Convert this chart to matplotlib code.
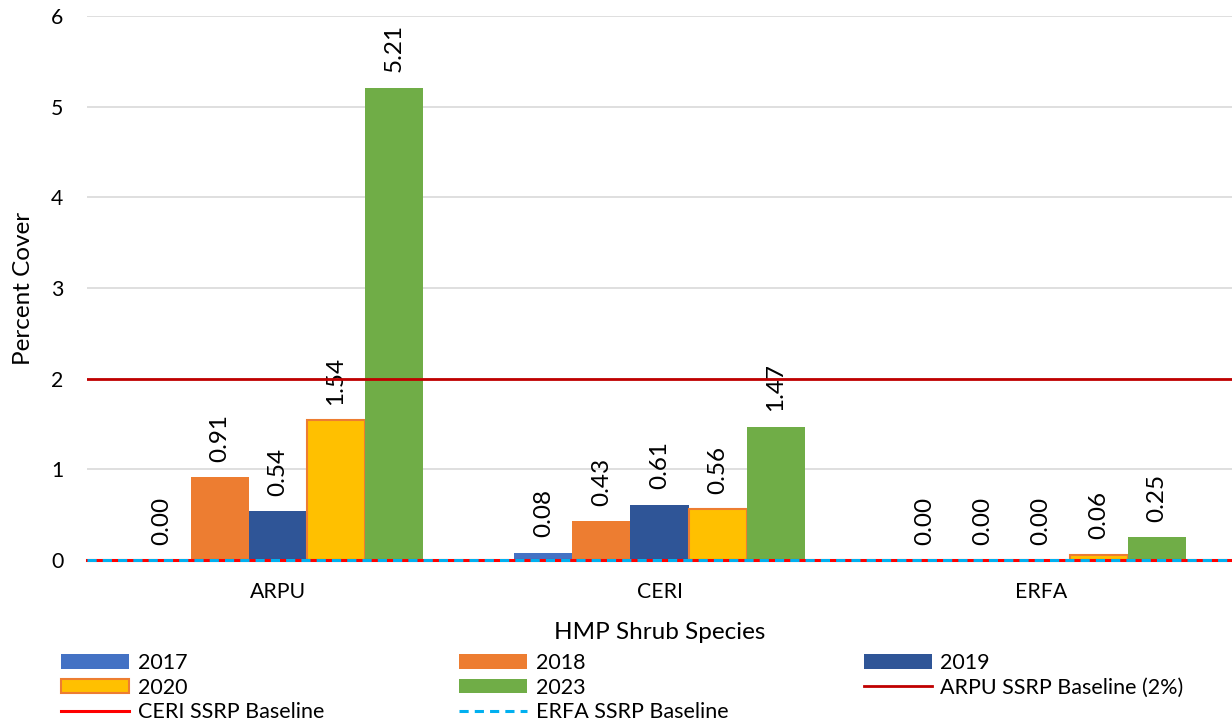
import matplotlib.pyplot as plt
import numpy as np
from matplotlib.lines import Line2D

plt.rcParams['font.family'] = ['Lato', 'DejaVu Sans']

species = ['ARPU', 'CERI', 'ERFA']
years = ['2017', '2018', '2019', '2020', '2023']
cover_2017 = [0.00, 0.08, 0.00]
cover_2018 = [0.91, 0.43, 0.00]
cover_2019 = [0.54, 0.61, 0.00]
cover_2020 = [1.54, 0.56, 0.06]
cover_2023 = [5.21, 1.47, 0.25]
arpu_baseline = 2.0
ceri_baseline = 0.0
erfa_baseline = 0.0

series = [cover_2017, cover_2018, cover_2019, cover_2020, cover_2023]
fills = ['#4472C4', '#ED7D31', '#2F5597', '#FFC000', '#70AD47']
edges = ['none', 'none', 'none', '#ED7D31', 'none']

fig = plt.figure(figsize=(12.32, 7.23), dpi=100)
ax = fig.add_axes([87/1232, 163/723, 1145/1232, 544/723])

x = np.arange(len(species))
w = 0.152
bars = {}
for i, (yr, vals) in enumerate(zip(years, series)):
    pos = x + (i - 2) * w
    b = ax.bar(pos, vals, w, color=fills[i], edgecolor=edges[i],
               linewidth=1.5 if edges[i] != 'none' else 0, zorder=3, label=yr)
    bars[yr] = b
    for px, v in zip(pos, vals):
        ax.annotate(f'{v:.2f}', (px, v), xytext=(0, 11), textcoords='offset points',
                    rotation=90, ha='center', va='bottom', fontsize=17.5)

ax.axhline(arpu_baseline, color='#C00000', lw=2, zorder=4)
ax.axhline(ceri_baseline, color='#FF0000', lw=2.2, zorder=4, clip_on=False)
ax.axhline(erfa_baseline, color='#00B0F0', lw=2.2, ls=(0, (3, 2)), zorder=5, clip_on=False)

ax.set_xlim(-0.5, 2.5)
ax.set_ylim(0, 6)
ax.set_yticks(range(7))
ax.set_xticks(x)
ax.set_xticklabels(species)
ax.grid(axis='y', color='#D9D9D9', lw=1.2, zorder=0)
for s in ax.spines.values():
    s.set_visible(False)
ax.tick_params(axis='both', length=0, labelsize=15.3)
ax.tick_params(axis='y', pad=17)
ax.tick_params(axis='x', pad=16)
ax.set_ylabel('Percent Cover', fontsize=17.5, labelpad=12)
ax.set_xlabel('HMP Shrub Species', fontsize=17.5, labelpad=14)

handles = [bars['2017'], bars['2020'], Line2D([], [], color='#FF0000', lw=2.2),
           bars['2018'], bars['2023'], Line2D([], [], color='#00B0F0', lw=2.2, ls=(0, (3, 2))),
           bars['2019'], Line2D([], [], color='#C00000', lw=2)]
labels = ['2017', '2020', 'CERI SSRP Baseline',
          '2018', '2023', 'ERFA SSRP Baseline',
          '2019', 'ARPU SSRP Baseline (2%)']
fig.legend(handles, labels, ncol=3, loc='lower left', bbox_to_anchor=(42/1232, -0.026),
           frameon=False, fontsize=15.5, handlelength=3.16, handleheight=0.65,
           handletextpad=0.4, columnspacing=6.27, labelspacing=0.22)

fig.savefig('out.png', dpi=100)
